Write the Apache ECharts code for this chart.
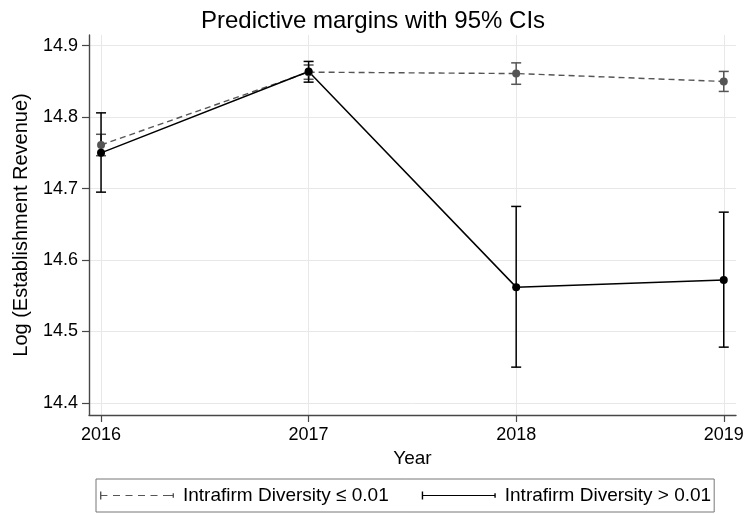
<!DOCTYPE html>
<html>
<head>
<meta charset="utf-8">
<title>Predictive margins with 95% CIs</title>
<script src="https://cdn.jsdelivr.net/npm/echarts@6/dist/echarts.min.js"></script>
<style>
  html, body { margin: 0; padding: 0; background: #ffffff; }
  #chart { width: 746px; height: 514px; }
</style>
</head>
<body>
<div id="chart"></div>
<script>
// Years on the horizontal axis
const years = [2016, 2017, 2018, 2019];

// Intrafirm Diversity <= 0.01: margins and 95% confidence bounds
const lowMargin = [14.761, 14.863, 14.861, 14.850];
const lowLower  = [14.746, 14.853, 14.846, 14.836];
const lowUpper  = [14.776, 14.873, 14.876, 14.864];

// Intrafirm Diversity > 0.01: margins and 95% confidence bounds
const highMargin = [14.750, 14.864, 14.562, 14.572];
const highLower  = [14.695, 14.849, 14.450, 14.478];
const highUpper  = [14.806, 14.878, 14.675, 14.667];

// Tick labels
const yTicks = [14.4, 14.5, 14.6, 14.7, 14.8, 14.9];
const xTicks = years;

const seriesNames = ['Intrafirm Diversity \u2264 0.01', 'Intrafirm Diversity > 0.01'];

const FONT = '"Liberation Sans", Arial, Helvetica, sans-serif';
const GREY = '#555555';
const BLACK = '#000000';
const AXIS = '#474747';

// Vertical error bar with horizontal caps, drawn from [x, lower, upper]
function errorBar(color) {
  return function (params, api) {
    const x = api.value(0);
    const lo = api.coord([x, api.value(1)]);
    const hi = api.coord([x, api.value(2)]);
    const half = 5;
    const style = { stroke: color, lineWidth: 1.5, fill: null };
    return {
      type: 'group',
      children: [
        { type: 'line', shape: { x1: hi[0] - half, y1: hi[1], x2: hi[0] + half, y2: hi[1] }, style: style },
        { type: 'line', shape: { x1: hi[0], y1: hi[1], x2: lo[0], y2: lo[1] }, style: style },
        { type: 'line', shape: { x1: lo[0] - half, y1: lo[1], x2: lo[0] + half, y2: lo[1] }, style: style }
      ]
    };
  };
}

// Legend keys: a capped line segment, dashed for the first group
const dashedKey = 'path://M0,0h1.4v8h-1.4z' +
  'M1.4,3.4h6v1.2h-6z M13,3.4h7v1.2h-7z M25.5,3.4h7v1.2h-7z' +
  'M38,3.4h7v1.2h-7z M50.5,3.4h7v1.2h-7z M63,3.4h9.6v1.2h-9.6z' +
  'M72.6,1.8h1.4v4.4h-1.4z M74,0h0v8h0z';
const solidKey = 'path://M0,0h1.4v8h-1.4z M1.4,3.4h71.2v1.2h-71.2z M72.6,1.8h1.4v4.4h-1.4z M74,0h0v8h0z';

const chart = echarts.init(document.getElementById('chart'), null, { renderer: 'canvas' });

chart.setOption({
  animation: false,
  backgroundColor: '#ffffff',
  textStyle: { fontFamily: FONT },
  title: {
    text: 'Predictive margins with 95% CIs',
    left: 'center',
    top: 9,
    padding: 0,
    textStyle: { fontFamily: FONT, fontSize: 24, fontWeight: 'normal', color: '#000' }
  },
  grid: {
    left: 89, right: 10, top: 35, bottom: 99,
    containLabel: false,
    outerBoundsMode: 'none'
  },
  xAxis: {
    type: 'value',
    min: 2015.942,
    max: 2019.059,
    name: 'Year',
    nameLocation: 'middle',
    nameGap: 31,
    nameTextStyle: { fontFamily: FONT, fontSize: 19, color: '#000' },
    axisLine: { show: true, lineStyle: { color: AXIS, width: 1.4 } },
    axisTick: { show: true, length: 7, customValues: xTicks, lineStyle: { color: AXIS, width: 1.2 } },
    axisLabel: { customValues: xTicks, margin: 11, fontSize: 18, color: '#000', fontFamily: FONT,
                 formatter: v => String(v) },
    splitLine: { show: true, lineStyle: { color: '#e8e8e8', width: 1 } }
  },
  yAxis: {
    type: 'value',
    min: 14.383,
    max: 14.915,
    name: 'Log (Establishment Revenue)',
    nameLocation: 'middle',
    nameRotate: 90,
    nameGap: 58,
    nameTextStyle: { fontFamily: FONT, fontSize: 20, color: '#000' },
    axisLine: { show: true, lineStyle: { color: AXIS, width: 1.4 } },
    axisTick: { show: true, length: 7, customValues: yTicks, lineStyle: { color: AXIS, width: 1.2 } },
    axisLabel: { customValues: yTicks, margin: 11, fontSize: 18, color: '#000', fontFamily: FONT,
                 formatter: v => v.toFixed(1) },
    splitLine: { show: true, lineStyle: { color: '#e8e8e8', width: 1 } }
  },
  legend: {
    data: [
      { name: seriesNames[0], icon: dashedKey },
      { name: seriesNames[1], icon: solidKey }
    ],
    left: 96,
    top: 479,
    itemWidth: 74,
    itemHeight: 8,
    itemGap: 33,
    padding: [7, 3, 7, 4],
    borderColor: '#777',
    borderWidth: 1,
    borderRadius: 0,
    itemStyle: { borderWidth: 0 },
    textStyle: { fontFamily: FONT, fontSize: 19, color: '#000', padding: [0, 0, 0, 4] }
  },
  series: [
    {
      name: seriesNames[0] + ' CI',
      type: 'custom',
      renderItem: errorBar(GREY),
      encode: { x: 0, y: [1, 2] },
      data: years.map((y, i) => [y, lowLower[i], lowUpper[i]]),
      silent: true
    },
    {
      name: seriesNames[0],
      type: 'line',
      color: GREY,
      symbol: 'circle',
      symbolSize: 8,
      showSymbol: true,
      itemStyle: { color: GREY },
      lineStyle: { color: GREY, width: 1.4, type: [6, 4] },
      data: years.map((y, i) => [y, lowMargin[i]])
    },
    {
      name: seriesNames[1] + ' CI',
      type: 'custom',
      renderItem: errorBar(BLACK),
      encode: { x: 0, y: [1, 2] },
      data: years.map((y, i) => [y, highLower[i], highUpper[i]]),
      silent: true
    },
    {
      name: seriesNames[1],
      type: 'line',
      color: BLACK,
      symbol: 'circle',
      symbolSize: 8,
      showSymbol: true,
      itemStyle: { color: BLACK },
      lineStyle: { color: BLACK, width: 1.5 },
      data: years.map((y, i) => [y, highMargin[i]])
    }
  ]
});
</script>
</body>
</html>
